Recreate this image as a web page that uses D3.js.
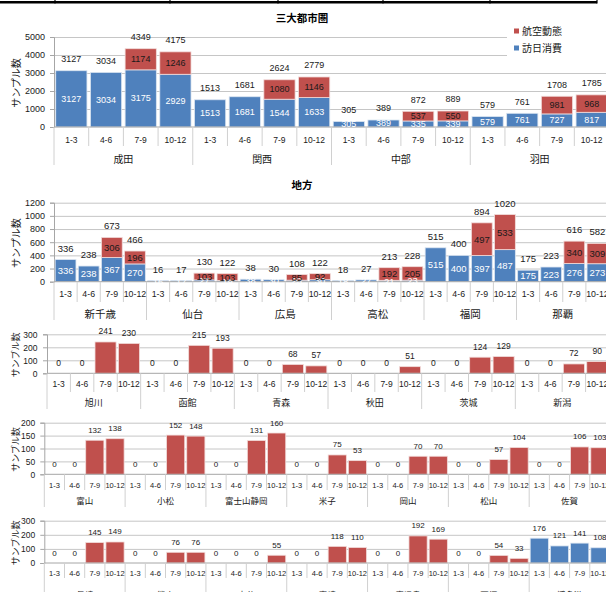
<!DOCTYPE html>
<html>
<head>
<meta charset="utf-8">
<script src="https://cdn.jsdelivr.net/npm/d3@7"></script>
<style>
  html, body { margin: 0; padding: 0; background: #fff; }
  svg { display: block; font-family: "Liberation Sans", Arial, "Noto Sans CJK JP", sans-serif; }
</style>
</head>
<body>
<script>
// Quarter categories shared by every airport group
const quarters = ["1-3", "4-6", "7-9", "10-12"];
const seriesNames = ["航空動態", "訪日消費"];

// 三大都市圏
const metroAirports = ["成田", "関西", "中部", "羽田"];
const metroVisitor = [3127, 3034, 3175, 2929, 1513, 1681, 1544, 1633, 305, 389, 335, 339, 579, 761, 727, 817];
const metroFlight  = [0, 0, 1174, 1246, 0, 0, 1080, 1146, 0, 0, 537, 550, 0, 0, 981, 968];

// 地方
const localAirports = ["新千歳", "仙台", "広島", "高松", "福岡", "那覇"];
const localVisitor = [336, 238, 367, 270, 16, 17, 27, 19, 38, 30, 23, 30, 18, 27, 21, 23, 515, 400, 397, 487, 175, 223, 276, 273];
const localFlight  = [0, 0, 306, 196, 0, 0, 103, 103, 0, 0, 85, 92, 0, 0, 192, 205, 0, 0, 497, 533, 0, 0, 340, 309];

// 航空動態のみの空港 (1)
const row3Airports = ["旭川", "函館", "青森", "秋田", "茨城", "新潟"];
const row3Flight  = [0, 0, 241, 230, 0, 0, 215, 193, 0, 0, 68, 57, 0, 0, 0, 51, 0, 0, 124, 129, 0, 0, 72, 90];
const row3Visitor = [0, 0, 0, 0, 0, 0, 0, 0, 0, 0, 0, 0, 0, 0, 0, 0, 0, 0, 0, 0, 0, 0, 0, 0];

// 航空動態のみの空港 (2)
const row4Airports = ["富山", "小松", "富士山静岡", "米子", "岡山", "松山", "佐賀"];
const row4Flight  = [0, 0, 132, 138, 0, 0, 152, 148, 0, 0, 131, 160, 0, 0, 75, 53, 0, 0, 70, 70, 0, 0, 57, 104, 0, 0, 106, 103];
const row4Visitor = [0, 0, 0, 0, 0, 0, 0, 0, 0, 0, 0, 0, 0, 0, 0, 0, 0, 0, 0, 0, 0, 0, 0, 0, 0, 0, 0, 0];

// 九州・沖縄ほか (博多港は訪日消費)
const row5Airports = ["長崎", "熊本", "大分", "宮崎", "鹿児島", "石垣", "博多港"];
const row5Flight  = [0, 0, 145, 149, 0, 0, 76, 76, 0, 0, 0, 55, 0, 0, 118, 110, 0, 0, 192, 169, 0, 0, 54, 33, 0, 0, 0, 0];
const row5Visitor = [0, 0, 0, 0, 0, 0, 0, 0, 0, 0, 0, 0, 0, 0, 0, 0, 0, 0, 0, 0, 0, 0, 0, 0, 176, 121, 141, 108];

const BLUE = "#4f81bd", RED = "#c0504d";
const GRID = "#c6c6c6", AXIS = "#a6a6a6", TEXT = "#1a1a1a";

const svg = d3.select("body").append("svg")
  .attr("width", 606).attr("height", 592)
  .attr("viewBox", "0 0 606 592");

// Header rule with cell dividers along the top edge
const headerTicks = [55, 170, 278, 383, 490, 597];
svg.append("line").attr("x1", 0).attr("x2", 597).attr("y1", 2.2).attr("y2", 2.2)
  .attr("stroke", "#000").attr("stroke-width", 2.6);
svg.selectAll(".hdr").data(headerTicks).join("line")
  .attr("x1", d => d).attr("x2", d => d).attr("y1", 0).attr("y2", 3.5)
  .attr("stroke", "#000").attr("stroke-width", 1.2);

function drawPanel(cfg, groups, visitor, flight) {
  const g = svg.append("g");
  const keys = groups.flatMap(gr => quarters.map(q => gr + "|" + q));
  const x = d3.scaleBand().domain(keys).range([cfg.left, cfg.right])
    .paddingInner(0.1).paddingOuter(0.05);
  const y = d3.scaleLinear().domain([0, cfg.max]).range([cfg.y0, cfg.yTop]);
  const tickVals = d3.range(0, cfg.max + cfg.step / 2, cfg.step);

  // gridlines
  g.append("g").attr("transform", `translate(${cfg.left},0)`)
    .call(d3.axisLeft(y).tickValues(tickVals.filter(v => v > 0))
      .tickSize(-(cfg.right - cfg.left)).tickFormat(""))
    .call(a => a.select(".domain").remove())
    .call(a => a.selectAll("line").attr("stroke", GRID).attr("stroke-width", 1));

  // y axis
  g.append("g").attr("transform", `translate(${cfg.left},0)`)
    .call(d3.axisLeft(y).tickValues(tickVals).tickFormat(d3.format("d"))
      .tickSize(4).tickPadding(cfg.tickPad))
    .call(a => a.select(".domain").attr("stroke", AXIS))
    .call(a => a.selectAll("line").attr("stroke", AXIS))
    .call(a => a.selectAll("text").attr("fill", TEXT)
      .style("font-size", cfg.tickFont + "px").style("font-family", "inherit"));

  // y axis title
  g.append("text")
    .attr("transform", `translate(${cfg.titleX},${(cfg.y0 + cfg.yTop) / 2 + 1}) rotate(-90)`)
    .attr("text-anchor", "middle").attr("dominant-baseline", "middle")
    .attr("fill", TEXT).style("font-size", cfg.axisTitleFont + "px")
    .text("サンプル数");

  if (cfg.legend) cfg.legend(g);

  const rows = keys.map((k, i) => ({ k, v: visitor[i], f: flight[i], t: visitor[i] + flight[i] }));

  // blue (訪日消費) segments
  g.selectAll(".bb").data(rows.filter(d => d.v > 0)).join("rect")
    .attr("x", d => x(d.k)).attr("width", x.bandwidth())
    .attr("y", d => y(d.v)).attr("height", d => y(0) - y(d.v))
    .attr("fill", BLUE).attr("stroke", "#dbe5f1").attr("stroke-width", 0.8);

  // red (航空動態) segments stacked above
  g.selectAll(".rb").data(rows.filter(d => d.f > 0)).join("rect")
    .attr("x", d => x(d.k)).attr("width", x.bandwidth())
    .attr("y", d => y(d.t)).attr("height", d => y(d.v) - y(d.t))
    .attr("fill", RED).attr("stroke", "#f2dcdb").attr("stroke-width", 0.8);

  // baseline
  g.append("line").attr("x1", cfg.left).attr("x2", cfg.right)
    .attr("y1", cfg.y0).attr("y2", cfg.y0).attr("stroke", AXIS);

  const cx = d => x(d.k) + x.bandwidth() / 2;

  if (cfg.inner) {
    g.selectAll(".bl").data(rows.filter(d => d.v > 0)).join("text")
      .attr("x", cx).attr("y", d => (y(0) + y(d.v)) / 2)
      .attr("text-anchor", "middle").attr("dominant-baseline", "central")
      .attr("fill", "#fff").style("font-size", cfg.valFont + "px")
      .text(d => d.v);
    g.selectAll(".rl").data(rows.filter(d => d.f > 0)).join("text")
      .attr("x", cx).attr("y", d => (y(d.v) + y(d.t)) / 2)
      .attr("text-anchor", "middle").attr("dominant-baseline", "central")
      .attr("fill", TEXT).style("font-size", cfg.valFont + "px")
      .text(d => d.f);
  }

  // totals above each bar
  g.selectAll(".tl").data(rows).join("text")
    .attr("x", cx).attr("y", d => y(d.t) - cfg.totOff)
    .attr("text-anchor", "middle").attr("dominant-baseline", "central")
    .attr("fill", TEXT).style("font-size", cfg.valFont + "px")
    .text(d => d.t);

  // category separators and labels
  const half = (x.step() - x.bandwidth()) / 2;
  const bounds = keys.map(k => x(k) - half).concat([x(keys[keys.length - 1]) + x.bandwidth() + half]);
  g.selectAll(".sep").data(bounds).join("line")
    .attr("x1", d => d).attr("x2", d => d)
    .attr("y1", cfg.y0)
    .attr("y2", (d, i) => i % 4 === 0 ? cfg.groupEnd : cfg.tickEnd)
    .attr("stroke", "#d0d0d0").attr("stroke-width", 1);

  g.selectAll(".ql").data(keys).join("text")
    .attr("x", k => x(k) + x.bandwidth() / 2).attr("y", cfg.qY)
    .attr("text-anchor", "middle").attr("dominant-baseline", "central")
    .attr("fill", TEXT).style("font-size", cfg.qFont + "px")
    .text(k => k.split("|")[1]);

  g.selectAll(".gl").data(groups).join("text")
    .attr("x", (gr, i) => (bounds[i * 4] + bounds[i * 4 + 4]) / 2).attr("y", cfg.gY)
    .attr("text-anchor", "middle").attr("dominant-baseline", "central")
    .attr("fill", TEXT).style("font-size", cfg.gFont + "px")
    .text(gr => gr);

  if (cfg.title) {
    svg.append("text").attr("x", 302).attr("y", cfg.titleY)
      .attr("text-anchor", "middle").attr("dominant-baseline", "central")
      .attr("fill", "#000").style("font-size", "10.5px").style("font-weight", "bold")
      .text(cfg.title);
  }
}

function metroLegend(g) {
  g.append("rect").attr("x", 507).attr("y", 22).attr("width", 102).attr("height", 38).attr("fill", "#fff");
  const items = g.selectAll(".lg").data(seriesNames).join("g")
    .attr("transform", (d, i) => `translate(514,${31 + i * 17})`);
  items.append("rect").attr("x", 0).attr("y", -2.5).attr("width", 5).attr("height", 5)
    .attr("fill", (d, i) => i === 0 ? RED : BLUE);
  items.append("text").attr("x", 8).attr("y", 0).attr("dominant-baseline", "central")
    .attr("fill", TEXT).style("font-size", "10px").text(d => d);
}

drawPanel({
  left: 54, right: 609, y0: 127, yTop: 37, max: 5000, step: 1000,
  tickPad: 5, tickFont: 9, titleX: 17, axisTitleFont: 10,
  inner: true, valFont: 9, totOff: 11.5,
  tickEnd: 146, groupEnd: 165, qY: 140, gY: 159, qFont: 8.5, gFont: 10,
  title: "三大都市圏", titleY: 18, legend: metroLegend
}, metroAirports, metroVisitor, metroFlight);

drawPanel({
  left: 54, right: 609, y0: 281.7, yTop: 202.7, max: 1200, step: 200,
  tickPad: 5, tickFont: 9, titleX: 17, axisTitleFont: 10,
  inner: true, valFont: 9.5, totOff: 11.5,
  tickEnd: 302, groupEnd: 320, qY: 294, gY: 314, qFont: 8.8, gFont: 10.5,
  title: "地方", titleY: 185
}, localAirports, localVisitor, localFlight);

drawPanel({
  left: 47, right: 609, y0: 373.3, yTop: 334.3, max: 300, step: 100,
  tickPad: 5.5, tickFont: 8.5, titleX: 17, axisTitleFont: 9,
  inner: false, valFont: 8.5, totOff: 10.5,
  tickEnd: 392, groupEnd: 409, qY: 384, gY: 403, qFont: 8.5, gFont: 9
}, row3Airports, row3Visitor, row3Flight);

drawPanel({
  left: 44.3, right: 610, y0: 474.3, yTop: 422.7, max: 200, step: 50,
  tickPad: 5, tickFont: 8.5, titleX: 17, axisTitleFont: 9,
  inner: false, valFont: 8, totOff: 10,
  tickEnd: 490, groupEnd: 507, qY: 485, gY: 501, qFont: 7.5, gFont: 8.5
}, row4Airports, row4Visitor, row4Flight);

drawPanel({
  left: 44.3, right: 610, y0: 563, yTop: 520.7, max: 300, step: 100,
  tickPad: 5, tickFont: 8.5, titleX: 17, axisTitleFont: 9,
  inner: false, valFont: 8, totOff: 10,
  tickEnd: 578, groupEnd: 600, qY: 573, gY: 595, qFont: 7.5, gFont: 8.5
}, row5Airports, row5Visitor, row5Flight);
</script>
</body>
</html>
